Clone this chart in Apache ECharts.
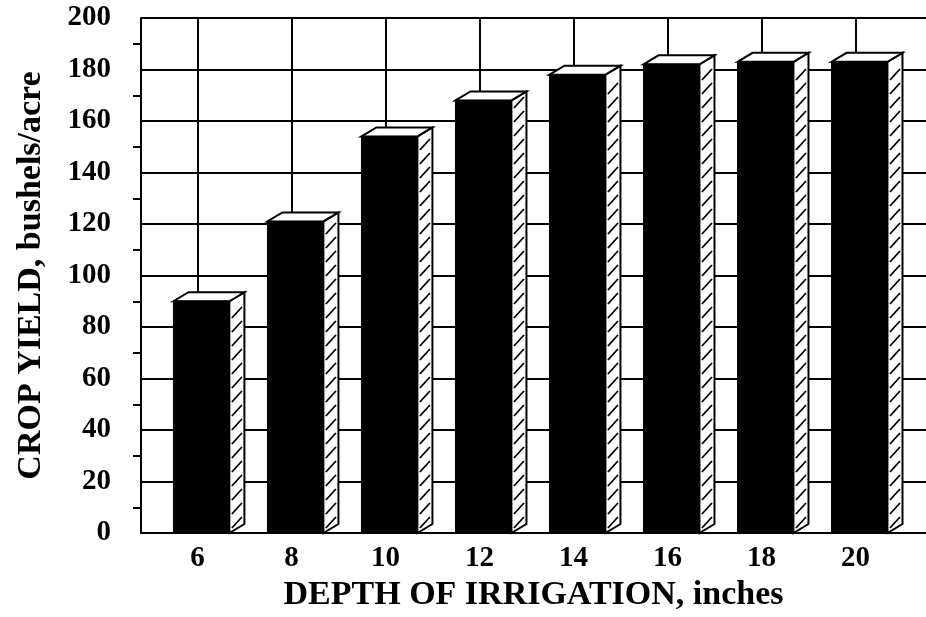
<!DOCTYPE html>
<html>
<head>
<meta charset="utf-8">
<script src="https://cdn.jsdelivr.net/npm/echarts@6/dist/echarts.min.js"></script>
<style>
html,body{margin:0;padding:0;background:#fff;}
#chart{width:926px;height:617px;}
</style>
</head>
<body>
<div id="chart"></div>
<script>
// Data
const depths = [6, 8, 10, 12, 14, 16, 18, 20];
const yields = [90, 121, 154, 168, 178, 182, 183, 183];
const xTickValues = [6, 8, 10, 12, 14, 16, 18, 20];
const yAxisTitle = 'CROP YIELD, bushels/acre';
const xAxisTitle = 'DEPTH OF IRRIGATION, inches';

const FONT = '"Liberation Serif", "DejaVu Serif", serif';
const seriesData = depths.map((d, i) => [d, yields[i]]);

function renderBar(params, api) {
  const x = api.value(0), y = api.value(1);
  const base = api.coord([x, 0]);
  const top = api.coord([x, y]);
  const unit = api.size([1, 0])[0];
  const fl = base[0] - 0.51 * unit;
  const fr = base[0] + 0.68 * unit;
  const dx = 0.32 * unit;
  const dy = 9;
  const ty = top[1], by = base[1];
  const children = [];
  // side face
  children.push({
    type: 'polygon',
    shape: {points: [[fr, ty], [fr + dx, ty - dy], [fr + dx, by - dy], [fr, by]]},
    style: {fill: '#fff', stroke: '#000', lineWidth: 2}
  });
  // hatch strokes
  const step = 14;
  for (let ys = by - 5; ys - 12 > ty - dy + 4; ys -= step) {
    children.push({
      type: 'line',
      shape: {x1: fr + 2.5, y1: ys, x2: fr + dx - 2.5, y2: ys - 11},
      style: {stroke: '#000', lineWidth: 1.8}
    });
  }
  // top face
  children.push({
    type: 'polygon',
    shape: {points: [[fl, ty], [fl + dx, ty - dy], [fr + dx, ty - dy], [fr, ty]]},
    style: {fill: '#fff', stroke: '#000', lineWidth: 2}
  });
  // front face
  children.push({
    type: 'rect',
    shape: {x: fl, y: ty, width: fr - fl, height: by - ty},
    style: {fill: '#000', stroke: '#000', lineWidth: 1}
  });
  return {type: 'group', children: children};
}

const chart = echarts.init(document.getElementById('chart'), null, {renderer: 'canvas'});
chart.setOption({
  backgroundColor: '#fff',
  animation: false,
  grid: {left: 141, right: 0, top: 18, bottom: 82, containLabel: false},
  xAxis: {
    type: 'value',
    min: 4.8,
    max: 21.5,
    name: xAxisTitle,
    nameLocation: 'middle',
    nameGap: 45,
    nameTextStyle: {fontFamily: FONT, fontWeight: 'bold', fontSize: 34, color: '#000'},
    axisLine: {show: true, onZero: false, lineStyle: {color: '#000', width: 2}},
    axisTick: {show: false, customValues: xTickValues},
    axisLabel: {customValues: xTickValues, fontFamily: FONT, fontWeight: 'bold', fontSize: 29, color: '#000', margin: 11},
    splitLine: {show: true, lineStyle: {color: '#000', width: 2}}
  },
  yAxis: {
    type: 'value',
    min: 0,
    max: 200,
    interval: 20,
    name: yAxisTitle,
    nameLocation: 'middle',
    nameRotate: 90,
    nameGap: 93,
    nameTextStyle: {fontFamily: FONT, fontWeight: 'bold', fontSize: 34, color: '#000'},
    axisLine: {show: true, lineStyle: {color: '#000', width: 2}},
    axisTick: {show: false},
    minorTick: {show: true, splitNumber: 2, length: 8, lineStyle: {color: '#000', width: 2}},
    axisLabel: {fontFamily: FONT, fontWeight: 'bold', fontSize: 29, color: '#000', margin: 30},
    splitLine: {show: true, lineStyle: {color: '#000', width: 2}}
  },
  series: [{
    type: 'custom',
    renderItem: renderBar,
    data: seriesData,
    clip: false,
    z: 5
  }]
});
</script>
</body>
</html>
